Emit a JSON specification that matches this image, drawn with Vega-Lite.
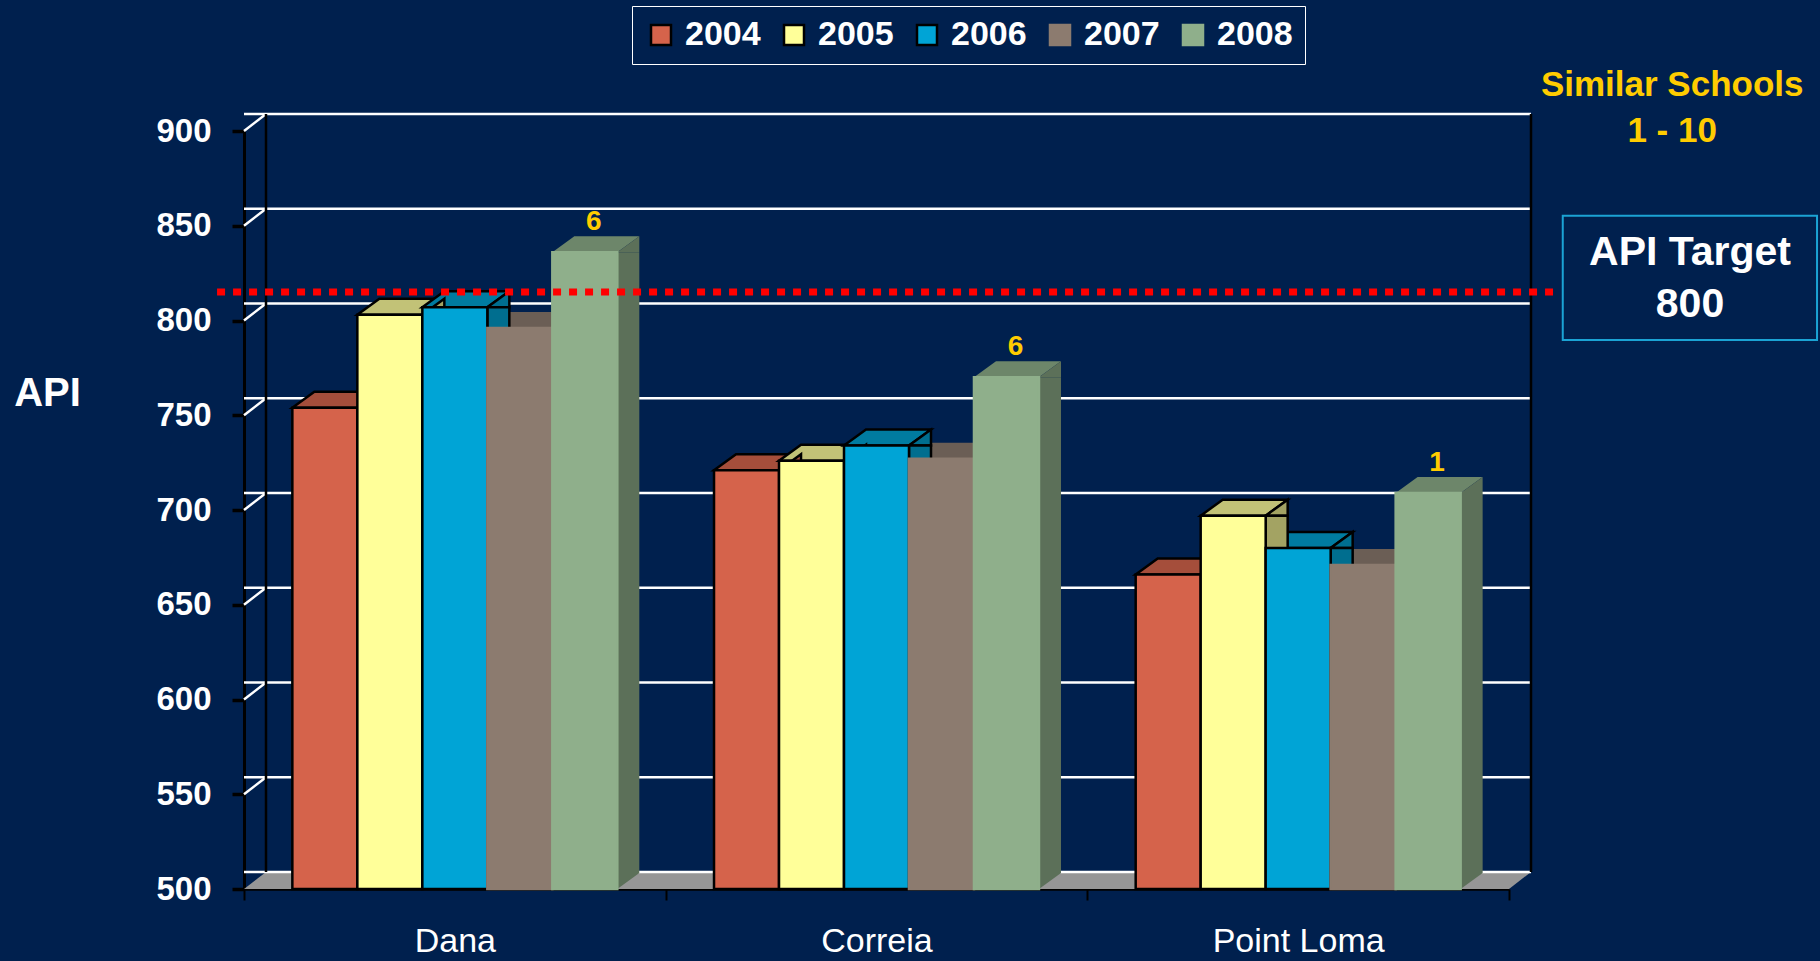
{
  "$schema": "https://vega.github.io/schema/vega-lite/v6.json",
  "width": 1265,
  "height": 758,
  "autosize": {"type": "none"},
  "padding": {"left": 244, "top": 131, "right": 311, "bottom": 72},
  "background": "#00204E",
  "config": {
    "view": {"stroke": null},
    "font": "Liberation Sans",
    "legend": {
      "orient": "none",
      "legendX": 388,
      "legendY": -125,
      "direction": "horizontal",
      "columns": 5,
      "labelColor": "#FFFFFF",
      "labelFont": "Liberation Sans",
      "labelFontWeight": "bold",
      "labelFontSize": 34,
      "symbolType": "square",
      "symbolSize": 400,
      "symbolStrokeWidth": 2.5,
      "strokeColor": "#FFFFFF",
      "padding": 12,
      "columnPadding": 16,
      "labelOffset": 7
    }
  },
  "data": {
    "values": [
      {"school": "Dana", "year": "2004", "api": 754},
      {"school": "Dana", "year": "2005", "api": 803},
      {"school": "Dana", "year": "2006", "api": 807},
      {"school": "Dana", "year": "2007", "api": 796},
      {"school": "Dana", "year": "2008", "api": 836, "rank": "6"},
      {"school": "Correia", "year": "2004", "api": 721},
      {"school": "Correia", "year": "2005", "api": 726},
      {"school": "Correia", "year": "2006", "api": 734},
      {"school": "Correia", "year": "2007", "api": 727},
      {"school": "Correia", "year": "2008", "api": 770, "rank": "6"},
      {"school": "Point Loma", "year": "2004", "api": 666},
      {"school": "Point Loma", "year": "2005", "api": 697},
      {"school": "Point Loma", "year": "2006", "api": 680},
      {"school": "Point Loma", "year": "2007", "api": 671},
      {"school": "Point Loma", "year": "2008", "api": 709, "rank": "1"}
    ]
  },
  "layer": [
    {
      "data": {"values": [{}]},
      "mark": {"type": "point", "shape": "M-1,0L1,0L1.0348,-0.0269L-0.9652,-0.0269Z", "size": 1600225, "filled": true, "opacity": 1, "fill": "#969696", "strokeWidth": 0},
      "encoding": {
        "x": {"datum": 0.5, "type": "quantitative", "scale": {"domain": [0, 1]}, "axis": null},
        "y": {"datum": 500, "type": "quantitative", "scale": {"domain": [500, 900]}}
      }
    },
    {
      "data": {"values": [{"v": 500}, {"v": 550}, {"v": 600}, {"v": 650}, {"v": 700}, {"v": 750}, {"v": 800}, {"v": 850}, {"v": 900}]},
      "mark": {"type": "rule", "color": "#FFFFFF", "strokeWidth": 2.5, "xOffset": 22, "x2Offset": 22, "yOffset": -17},
      "encoding": {
        "y": {"field": "v", "type": "quantitative", "scale": {"domain": [500, 900]}}
      }
    },
    {
      "data": {"values": [{"v": 550}, {"v": 600}, {"v": 650}, {"v": 700}, {"v": 750}, {"v": 800}, {"v": 850}, {"v": 900}]},
      "mark": {"type": "rule", "color": "#FFFFFF", "strokeWidth": 2.5, "x2Offset": 22, "y2Offset": -17},
      "encoding": {
        "x": {"datum": 0, "type": "quantitative", "scale": {"domain": [0, 1]}, "axis": null},
        "x2": {"datum": 0},
        "y": {"field": "v", "type": "quantitative", "scale": {"domain": [500, 900]}},
        "y2": {"field": "v"}
      }
    },
    {
      "data": {"values": [{}]},
      "mark": {"type": "rule", "color": "#000000", "strokeWidth": 2.5, "xOffset": 22, "yOffset": -17, "y2Offset": -17},
      "encoding": {
        "x": {"datum": 0, "type": "quantitative", "scale": {"domain": [0, 1]}, "axis": null},
        "y": {"datum": 500, "type": "quantitative", "scale": {"domain": [500, 900]}},
        "y2": {"datum": 900}
      }
    },
    {
      "data": {"values": [{}]},
      "mark": {"type": "rule", "color": "#000000", "strokeWidth": 2.5, "xOffset": 22, "yOffset": -17, "y2Offset": -17},
      "encoding": {
        "x": {"datum": 1, "type": "quantitative", "scale": {"domain": [0, 1]}, "axis": null},
        "y": {"datum": 500, "type": "quantitative", "scale": {"domain": [500, 900]}},
        "y2": {"datum": 900}
      }
    },
    {
      "mark": {"type": "point", "shape": "M-1,0L1,0L1.677,-0.492L-0.323,-0.492Z", "size": 4225, "filled": true, "opacity": 1, "strokeWidth": 2.5},
      "encoding": {
        "x": {"field": "school", "type": "nominal", "sort": ["Dana", "Correia", "Point Loma"], "scale": {"paddingInner": 0, "paddingOuter": 0}, "axis": null},
        "xOffset": {"field": "year", "type": "nominal", "scale": {"paddingInner": 0, "paddingOuter": 0.744}},
        "y": {"field": "api", "type": "quantitative", "scale": {"domain": [500, 900]}},
        "fill": {
          "condition": [
            {"test": "datum.year == '2004'", "value": "#A54E3B"},
            {"test": "datum.year == '2005'", "value": "#C2C277"},
            {"test": "datum.year == '2006'", "value": "#007BA0"},
            {"test": "datum.year == '2007'", "value": "#6B5E55"}
          ],
          "value": "#6D866A"
        },
        "stroke": {"condition": {"test": "datum.year <= '2006'", "value": "#000000"}, "value": "transparent"}
      }
    },
    {
      "mark": {"type": "point", "shape": "M1,0L1.677,-0.492L1.677,0Z", "size": 4225, "filled": true, "opacity": 1, "strokeWidth": 2.5},
      "encoding": {
        "x": {"field": "school", "type": "nominal", "sort": ["Dana", "Correia", "Point Loma"], "scale": {"paddingInner": 0, "paddingOuter": 0}, "axis": null},
        "xOffset": {"field": "year", "type": "nominal", "scale": {"paddingInner": 0, "paddingOuter": 0.744}},
        "y": {"field": "api", "type": "quantitative", "scale": {"domain": [500, 900]}},
        "fill": {
          "condition": [
            {"test": "datum.year == '2004'", "value": "#A54E3B"},
            {"test": "datum.year == '2005'", "value": "#A3A363"},
            {"test": "datum.year == '2006'", "value": "#006E8F"},
            {"test": "datum.year == '2007'", "value": "#5F544B"}
          ],
          "value": "#5C7059"
        },
        "stroke": {"condition": {"test": "datum.year <= '2006'", "value": "#000000"}, "value": "transparent"}
      }
    },
    {
      "mark": {"type": "bar", "width": 22, "strokeWidth": 2.5, "y2Offset": -16},
      "encoding": {
        "x": {"field": "school", "type": "nominal", "sort": ["Dana", "Correia", "Point Loma"], "scale": {"paddingInner": 0, "paddingOuter": 0, "range": [43.5, 1308.5]}, "axis": null},
        "xOffset": {"field": "year", "type": "nominal", "scale": {"paddingInner": 0, "paddingOuter": 0.744}},
        "y": {"field": "api", "type": "quantitative", "scale": {"domain": [500, 900]}},
        "y2": {"datum": 500},
        "fill": {
          "condition": [
            {"test": "datum.year == '2004'", "value": "#A54E3B"},
            {"test": "datum.year == '2005'", "value": "#A3A363"},
            {"test": "datum.year == '2006'", "value": "#006E8F"},
            {"test": "datum.year == '2007'", "value": "#5F544B"}
          ],
          "value": "#5C7059"
        },
        "stroke": {"condition": {"test": "datum.year <= '2006'", "value": "#000000"}, "value": "transparent"}
      }
    },
    {
      "mark": {"type": "point", "shape": "M1,0L1,-0.492L1.677,-0.492Z", "size": 4225, "filled": true, "opacity": 1, "strokeWidth": 0},
      "encoding": {
        "x": {"field": "school", "type": "nominal", "sort": ["Dana", "Correia", "Point Loma"], "scale": {"paddingInner": 0, "paddingOuter": 0}, "axis": null},
        "xOffset": {"field": "year", "type": "nominal", "scale": {"paddingInner": 0, "paddingOuter": 0.744}},
        "y": {"datum": 500, "type": "quantitative", "scale": {"domain": [500, 900]}},
        "fill": {
          "condition": [
            {"test": "datum.year == '2004'", "value": "#A54E3B"},
            {"test": "datum.year == '2005'", "value": "#A3A363"},
            {"test": "datum.year == '2006'", "value": "#006E8F"},
            {"test": "datum.year == '2007'", "value": "#5F544B"}
          ],
          "value": "#5C7059"
        }
      }
    },
    {
      "mark": {"type": "bar", "strokeWidth": 2.5},
      "encoding": {
        "x": {
          "field": "school", "type": "nominal", "sort": ["Dana", "Correia", "Point Loma"],
          "scale": {"paddingInner": 0, "paddingOuter": 0},
          "axis": {
            "title": null, "labelColor": "#FFFFFF", "labelFont": "Liberation Sans", "labelFontSize": 34,
            "labelFontWeight": "normal", "labelPadding": 24, "labelAngle": 0, "tickSize": 11, "tickColor": "#000000",
            "tickWidth": 2, "domainColor": "#000000", "domainWidth": 2.5, "tickBand": "extent", "grid": false
          }
        },
        "xOffset": {"field": "year", "type": "nominal", "scale": {"paddingInner": 0, "paddingOuter": 0.744}},
        "y": {
          "field": "api", "type": "quantitative", "scale": {"domain": [500, 900]},
          "axis": {
            "values": [500, 550, 600, 650, 700, 750, 800, 850, 900],
            "title": "API", "titleAngle": 0, "titleColor": "#FFFFFF", "titleFont": "Liberation Sans", "titleFontSize": 40,
            "titleFontWeight": "bold", "titleX": -197, "titleY": 262, "titleAlign": "center", "titleBaseline": "middle",
            "labelColor": "#FFFFFF", "labelFont": "Liberation Sans", "labelFontSize": 33, "labelFontWeight": "bold",
            "labelPadding": 21, "tickSize": 12, "tickColor": "#000000", "tickWidth": 3.5,
            "domainColor": "#000000", "domainWidth": 3, "grid": false
          }
        },
        "y2": {"datum": 500},
        "fill": {
          "field": "year", "type": "nominal", "title": null,
          "scale": {"domain": ["2004", "2005", "2006", "2007", "2008"], "range": ["#D5634B", "#FFFF99", "#00A4D6", "#8C7B6F", "#8FAF8B"]}
        },
        "stroke": {
          "field": "year", "type": "nominal", "title": null,
          "scale": {"domain": ["2004", "2005", "2006", "2007", "2008"], "range": ["#000000", "#000000", "#000000", "#8C7B6F", "#8FAF8B"]}
        }
      }
    },
    {
      "transform": [{"filter": "isValid(datum.rank)"}],
      "mark": {"type": "text", "color": "#FFCC00", "font": "Liberation Sans", "fontSize": 28, "fontWeight": "bold", "dx": 9, "dy": -22, "baseline": "alphabetic", "align": "center"},
      "encoding": {
        "x": {"field": "school", "type": "nominal", "sort": ["Dana", "Correia", "Point Loma"], "scale": {"paddingInner": 0, "paddingOuter": 0}, "axis": null},
        "xOffset": {"field": "year", "type": "nominal", "scale": {"paddingInner": 0, "paddingOuter": 0.744}},
        "y": {"field": "api", "type": "quantitative", "scale": {"domain": [500, 900]}},
        "text": {"field": "rank"}
      }
    },
    {
      "data": {"values": [{}]},
      "mark": {"type": "rule", "color": "#FF0000", "strokeWidth": 7, "strokeDash": [8, 8], "strokeCap": "butt"},
      "encoding": {
        "x": {"datum": -0.0213, "type": "quantitative", "scale": {"domain": [0, 1]}, "axis": null},
        "x2": {"datum": 1.0348},
        "y": {"datum": 815, "type": "quantitative", "scale": {"domain": [500, 900]}}
      }
    },
    {
      "data": {"values": [{}]},
      "mark": {"type": "text", "text": "Similar Schools\n1 - 10", "lineBreak": "\n", "lineHeight": 46, "color": "#FFCC00", "font": "Liberation Sans", "fontSize": 35, "fontWeight": "bold", "align": "center", "baseline": "middle"},
      "encoding": {
        "x": {"datum": 1.129, "type": "quantitative", "scale": {"domain": [0, 1]}, "axis": null},
        "y": {"datum": 924.3, "type": "quantitative", "scale": {"domain": [500, 900]}}
      }
    },
    {
      "data": {"values": [{}]},
      "mark": {"type": "rect", "fill": "transparent", "stroke": "#1BA3D4", "strokeWidth": 2},
      "encoding": {
        "x": {"datum": 1.0425, "type": "quantitative", "scale": {"domain": [0, 1]}, "axis": null},
        "x2": {"datum": 1.2435},
        "y": {"datum": 855.3, "type": "quantitative", "scale": {"domain": [500, 900]}},
        "y2": {"datum": 789.7}
      }
    },
    {
      "data": {"values": [{}]},
      "mark": {"type": "text", "text": "API Target\n800", "lineBreak": "\n", "lineHeight": 52, "color": "#FFFFFF", "font": "Liberation Sans", "fontSize": 41, "fontWeight": "bold", "align": "center", "baseline": "middle"},
      "encoding": {
        "x": {"datum": 1.1431, "type": "quantitative", "scale": {"domain": [0, 1]}, "axis": null},
        "y": {"datum": 835.6, "type": "quantitative", "scale": {"domain": [500, 900]}}
      }
    }
  ],
  "resolve": {"scale": {"x": "independent"}}
}
